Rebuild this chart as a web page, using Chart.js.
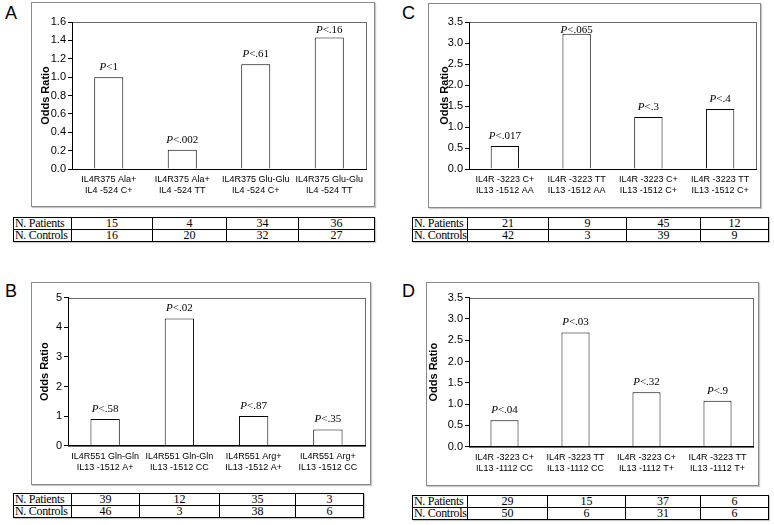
<!DOCTYPE html>
<html>
<head>
<meta charset="utf-8">
<script src="https://cdn.jsdelivr.net/npm/chart.js@4"></script>
<style>
  html, body { margin:0; padding:0; background:#fff; }
  body { width:774px; height:525px; position:relative; overflow:hidden; }
  .frame { position:absolute; border:1px solid #8a8a8a; box-shadow:1px 1px 1px #c8c8c8; background:#fff; }
  .frame canvas { position:absolute; left:0; top:0; }
  .letter { position:absolute; font-family:"Liberation Sans", Arial, sans-serif; font-size:18px; color:#000; }
  table.nt { position:absolute; border-collapse:collapse; table-layout:fixed; font-family:"Liberation Serif", "Times New Roman", serif; font-size:12px; color:#000; box-shadow:1px 1px 1px #c8c8c8; }
  table.nt td { border:1px solid #000; padding:0; height:11px; line-height:11px; text-align:center; white-space:nowrap; overflow:hidden; }
  table.nt td.lab { text-align:left; padding-left:1px; letter-spacing:-0.3px; }
</style>
</head>
<body>
<script>
// ---------- DATA ----------
const categoriesA = [["IL4R375 Ala+","IL4 -524 C+"],["IL4R375 Ala+","IL4 -524 TT"],["IL4R375 Glu-Glu","IL4 -524 C+"],["IL4R375 Glu-Glu","IL4 -524 TT"]];
const oddsA = [1.0, 0.21, 1.14, 1.43];
const pA = ["<1", "<.002", "<.61", "<.16"];
const patientsA = [15, 4, 34, 36];
const controlsA = [16, 20, 32, 27];

const categoriesB = [["IL4R551 Gln-Gln","IL13 -1512 A+"],["IL4R551 Gln-Gln","IL13 -1512 CC"],["IL4R551 Arg+","IL13 -1512 A+"],["IL4R551 Arg+","IL13 -1512 CC"]];
const oddsB = [0.90, 4.3, 1.0, 0.55];
const pB = ["<.58", "<.02", "<.87", "<.35"];
const patientsB = [39, 12, 35, 3];
const controlsB = [46, 3, 38, 6];

const categoriesC = [["IL4R -3223 C+","IL13 -1512 AA"],["IL4R -3223 TT","IL13 -1512 AA"],["IL4R -3223 C+","IL13 -1512 C+"],["IL4R -3223 TT","IL13 -1512 C+"]];
const oddsC = [0.55, 3.22, 1.24, 1.43];
const pC = ["<.017", "<.065", "<.3", "<.4"];
const patientsC = [21, 9, 45, 12];
const controlsC = [42, 3, 39, 9];

const categoriesD = [["IL4R -3223 C+","IL13 -1112 CC"],["IL4R -3223 TT","IL13 -1112 CC"],["IL4R -3223 C+","IL13 -1112 T+"],["IL4R -3223 TT","IL13 -1112 T+"]];
const oddsD = [0.62, 2.68, 1.28, 1.08];
const pD = ["<.04", "<.03", "<.32", "<.9"];
const patientsD = [29, 15, 37, 6];
const controlsD = [50, 6, 31, 6];

const rowLabels = ["N. Patients", "N. Controls"];
const yAxisTitle = "Odds Ratio";

// ---------- LAYOUT ----------
const panels = [
  { letter:"A", lx:5, ly:3, cats:categoriesA, vals:oddsA, p:pA, pat:patientsA, con:controlsA,
    yMax:1.6, step:0.2, dec:1,
    frame:{x:31,y:2,w:342,h:203}, L:40, R:8, T:19, B:37, titlePad:7.4,
    table:{x:13,y:217,cols:[58,81,74,72,76]} },
  { letter:"B", lx:5, ly:281, cats:categoriesB, vals:oddsB, p:pB, pat:patientsB, con:controlsB,
    yMax:5, step:1, dec:0,
    frame:{x:31,y:282,w:338,h:201}, L:36, R:5, T:14.7, B:38.3, titlePad:6.4,
    table:{x:13,y:493,cols:[58,68,80,76,68]} },
  { letter:"C", lx:402, ly:3, cats:categoriesC, vals:oddsC, p:pC, pat:patientsC, con:controlsC,
    yMax:3.5, step:0.5, dec:1,
    frame:{x:428,y:3,w:331,h:203}, L:40, R:4, T:18, B:38, titlePad:9.4,
    table:{x:412,y:217,cols:[55,81,78,74,68]} },
  { letter:"D", lx:402, ly:281, cats:categoriesD, vals:oddsD, p:pD, pat:patientsD, con:controlsD,
    yMax:3.5, step:0.5, dec:1,
    frame:{x:426,y:282,w:331,h:202}, L:42, R:5, T:14.7, B:38.3, titlePad:0,
    table:{x:412,y:495,cols:[55,80,78,75,68]} }
];

const sans = "'Liberation Sans', Arial, sans-serif";
const serif = "'Liberation Serif', 'Times New Roman', serif";

const plotBox = {
  id:'plotBox',
  beforeDraw(chart){
    const {ctx, chartArea:a} = chart;
    ctx.save();
    ctx.strokeStyle = '#6a6a6a';
    ctx.lineWidth = 1;
    ctx.strokeRect(Math.round(a.left)+0.5, Math.round(a.top)+0.5, Math.round(a.right-a.left), Math.round(a.bottom-a.top));
    ctx.restore();
  }
};

const pLabels = {
  id:'pLabels',
  afterDatasetsDraw(chart, args, opts){
    const {ctx, chartArea:a} = chart;
    const meta = chart.getDatasetMeta(0);
    ctx.save();
    ctx.fillStyle = '#000';
    ctx.textBaseline = 'middle';
    meta.data.forEach((bar, i) => {
      const rest = opts.labels[i];
      ctx.font = "italic 11px " + serif;
      const wP = ctx.measureText("P").width;
      ctx.font = "11px " + serif;
      const wR = ctx.measureText(rest).width;
      const total = wP + wR;
      const cy = Math.max(bar.y - 10, a.top + 8);
      let x = bar.x - total/2;
      ctx.textAlign = 'left';
      ctx.font = "italic 11px " + serif;
      ctx.fillText("P", x, cy);
      ctx.font = "11px " + serif;
      ctx.fillText(rest, x + wP, cy);
    });
    ctx.restore();
  }
};

panels.forEach(pn => {
  const lt = document.createElement('div');
  lt.className = 'letter';
  lt.style.left = pn.lx + 'px'; lt.style.top = pn.ly + 'px';
  lt.textContent = pn.letter;
  document.body.appendChild(lt);

  const fr = document.createElement('div');
  fr.className = 'frame';
  fr.style.left = pn.frame.x + 'px'; fr.style.top = pn.frame.y + 'px';
  fr.style.width = pn.frame.w + 'px'; fr.style.height = pn.frame.h + 'px';
  const cv = document.createElement('canvas');
  cv.width = pn.frame.w; cv.height = pn.frame.h;
  cv.style.width = pn.frame.w + 'px'; cv.style.height = pn.frame.h + 'px';
  fr.appendChild(cv);
  document.body.appendChild(fr);

  new Chart(cv, {
    type:'bar',
    data:{
      labels: pn.cats,
      datasets:[{
        data: pn.vals,
        backgroundColor:'#ffffff',
        borderColor:'#000000',
        borderWidth:1,
        barPercentage:0.395,
        categoryPercentage:1
      }]
    },
    options:{
      responsive:false,
      animation:false,
      devicePixelRatio:1,
      events:[],
      layout:{ padding:{ left:0, top:pn.T, right:pn.R, bottom:0 } },
      plugins:{ legend:{display:false}, tooltip:{enabled:false}, pLabels:{ labels: pn.p } },
      scales:{
        x:{
          grid:{ display:false, drawTicks:false },
          border:{ display:true, color:'#000', width:1 },
          ticks:{ color:'#000', font:{ family:sans, size:9, lineHeight:1.25 }, padding:5, maxRotation:0, autoSkip:false },
          afterFit(s){ s.height = pn.B; }
        },
        y:{
          min:0, max:pn.yMax,
          grid:{ drawOnChartArea:false, drawTicks:true, tickLength:4, color:'#000' },
          border:{ display:true, color:'#000', width:1 },
          ticks:{ stepSize:pn.step, color:'#000', font:{ family:sans, size:11 }, padding:2,
                  callback:(v)=> Number(v).toFixed(pn.dec) },
          title:{ display:true, text:yAxisTitle, color:'#000', font:{ family:sans, size:11, weight:'bold' }, padding:{top:pn.titlePad, bottom:0} },
          afterFit(s){ s.width = pn.L; }
        }
      }
    },
    plugins:[plotBox, pLabels]
  });

  const tb = document.createElement('table');
  tb.className = 'nt';
  tb.style.left = pn.table.x + 'px'; tb.style.top = pn.table.y + 'px';
  tb.style.width = pn.table.cols.reduce((s,c)=>s+c,0) + 'px';
  const cg = document.createElement('colgroup');
  pn.table.cols.forEach(w => { const c = document.createElement('col'); c.style.width = w + 'px'; cg.appendChild(c); });
  tb.appendChild(cg);
  const rows = [pn.pat, pn.con];
  rows.forEach((r, ri) => {
    const tr = document.createElement('tr');
    const th = document.createElement('td');
    th.className = 'lab';
    th.textContent = rowLabels[ri];
    tr.appendChild(th);
    r.forEach((v) => {
      const td = document.createElement('td');
      td.textContent = v;
      tr.appendChild(td);
    });
    tb.appendChild(tr);
  });
  document.body.appendChild(tb);
});
</script>
</body>
</html>
